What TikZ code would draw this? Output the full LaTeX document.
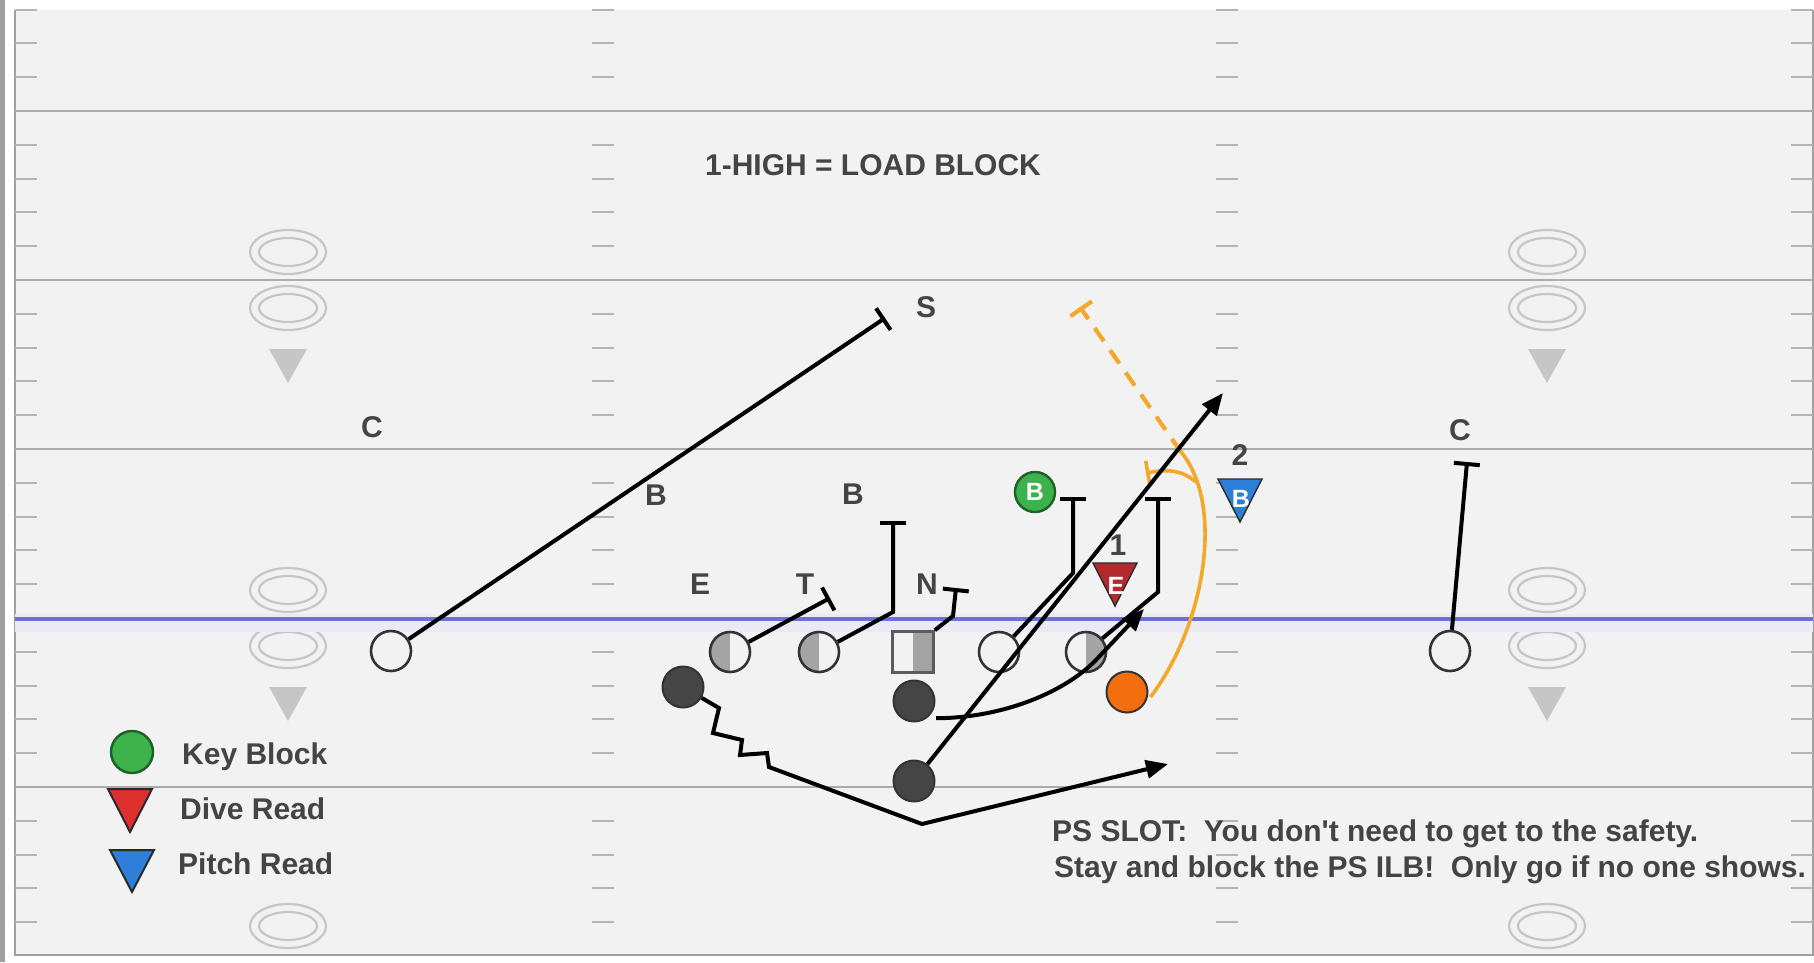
\documentclass[tikz,border=0pt]{standalone}
\usepackage{fontspec}
\setmainfont{Liberation Sans}[Ligatures=TeXOff]
\usetikzlibrary{arrows.meta,calc}

\definecolor{fieldbg}{HTML}{F2F2F2}
\definecolor{edgegray}{HTML}{A0A0A0}
\definecolor{yardline}{HTML}{ABABAB}
\definecolor{hashc}{HTML}{B4B4B4}
\definecolor{numc}{HTML}{C6C6C6}
\definecolor{losblue}{HTML}{6F6FDB}
\definecolor{losband}{HTML}{EAEAF6}
\definecolor{labelc}{HTML}{444444}
\definecolor{ringc}{HTML}{333333}
\definecolor{linemanfill}{HTML}{A4A4A4}
\definecolor{backfill}{HTML}{454545}
\definecolor{keygreen}{HTML}{3DB14A}
\definecolor{keyedge}{HTML}{1F5F28}
\definecolor{pitchorange}{HTML}{F3A82A}
\definecolor{runnerorange}{HTML}{F26E10}
\definecolor{divered}{HTML}{B3292E}
\definecolor{legendred}{HTML}{DF2E2E}
\definecolor{pitchblue}{HTML}{2D7FD9}
\definecolor{tridark}{HTML}{2A2A2A}

\begin{document}
\begin{tikzpicture}[x=1pt,y=-1pt,
  lbl/.style={font=\fontsize{30}{36}\selectfont\bfseries, text=labelc, inner sep=0pt},
  inlbl/.style={font=\fontsize{25}{30}\selectfont\bfseries, text=white, inner sep=0pt},
  route/.style={draw=black, line width=4pt, line join=miter},
  blk/.style={-{Bar[width=26pt]}},
  arr/.style={-{Triangle[length=22pt,width=18pt]}},
  player/.style={circle, draw=ringc, line width=2.6pt, minimum size=40pt, inner sep=0pt, fill=fieldbg},
  halfL/.style={player, path picture={\fill[linemanfill] (path picture bounding box.south west) rectangle (path picture bounding box.north);}},
  halfR/.style={player, path picture={\fill[linemanfill] (path picture bounding box.south) rectangle (path picture bounding box.north east);}},
  centerbox/.style={rectangle, draw=ringc!80, line width=2.6pt, minimum size=41pt, inner sep=0pt, fill=fieldbg,
    path picture={\fill[linemanfill] (path picture bounding box.south) rectangle (path picture bounding box.north east);}},
  back/.style={circle, draw=ringc, fill=backfill, line width=2pt, minimum size=41pt, inner sep=0pt},
  runner/.style={circle, draw=ringc, fill=runnerorange, line width=2pt, minimum size=41pt, inner sep=0pt},
  keyblock/.style={circle, draw=keyedge, fill=keygreen, line width=2.4pt, minimum size=40pt, inner sep=0pt},
  numoval/.style={draw=numc, line width=2.2pt},
  pitchline/.style={draw=pitchorange, line width=3.6pt},
]
\useasboundingbox (0,0) rectangle (1814,962);

% paper, side strip and field
\fill[white] (0,0) rectangle (1814,962);
\fill[edgegray] (0,0) rectangle (5,962);
\fill[fieldbg] (15,10) rectangle (1813,955);
\draw[edgegray, line width=2pt] (15,10) -- (15,955) -- (1813,955) -- (1813,10);

% hash marks, every yard
\foreach \k in {-3,-2,-1,1,2,3,4,6,7,8,9,11,12,13,14,16,17,18,19,21,22,23,24} {
  \pgfmathsetmacro{\yy}{111+33.8*\k}
  \draw[hashc, line width=2pt] (15,\yy) -- (37,\yy);
  \draw[hashc, line width=2pt] (592,\yy) -- (614,\yy);
  \draw[hashc, line width=2pt] (1216,\yy) -- (1238,\yy);
  \draw[hashc, line width=2pt] (1791,\yy) -- (1813,\yy);
}

% yard lines
\foreach \yy in {111,280,449,787} {
  \draw[yardline, line width=2.6pt] (15,\yy) -- (1813,\yy);
}

% yard numbers and direction arrows
\foreach \xx in {288,1547} {
  \foreach \yy in {252,308,590,646,926} {
    \draw[numoval] (\xx,\yy) ellipse [x radius=38pt, y radius=22pt];
    \draw[numoval] (\xx,\yy) ellipse [x radius=29pt, y radius=14pt];
  }
  \foreach \yy in {280,618} {
    \fill[numc] (\xx-19,\yy+69) -- (\xx+19,\yy+69) -- (\xx,\yy+103) -- cycle;
  }
}

% line of scrimmage
\fill[losband] (15,614) rectangle (1813,632);
\draw[losblue, line width=4.6pt] (15,619) -- (1813,619);

% heading and notes
\node[lbl] (head) at (873,165) {1-HIGH = LOAD BLOCK};
\node[lbl, anchor=base west] (note1) at (1052,841) {PS SLOT:\ \ You don't need to get to the safety.};
\node[lbl, anchor=base west] (note2) at (1054,877) {Stay and block the PS ILB!\ \ Only go if no one shows.};

% defensive labels
\node[lbl] (labC1) at (372,427) {C};
\node[lbl] (labS) at (926,307) {S};
\node[lbl] (labB1) at (656,495) {B};
\node[lbl] (labB2) at (853,494) {B};
\node[lbl] (labE) at (700,584) {E};
\node[lbl] (labT) at (805,584) {T};
\node[lbl] (labN) at (927,584) {N};
\node[lbl] (lab1) at (1118,545) {1};
\node[lbl] (lab2) at (1240,455) {2};
\node[lbl] (labC2) at (1460,430) {C};

% read keys
\filldraw[fill=divered, draw=tridark, line width=1.4pt] (1093,563) -- (1137,563) -- (1115,606) -- cycle;
\node[inlbl] (diveE) at (1116,586) {E};
\filldraw[fill=pitchblue, draw=tridark, line width=1.4pt] (1218,479) -- (1262,479) -- (1240,522) -- cycle;
\node[inlbl] (pitchB) at (1241,499) {B};
\node[keyblock, inlbl] (keyB) at (1035,492) {B};

% offense
\node[player] (lc) at (391,651) {};
\node[player] (rc) at (1450,651) {};
\node[halfL] (t1) at (730,652) {};
\node[halfL] (t2) at (819,652) {};
\node[centerbox] (ctr) at (913,652) {};
\node[player] (g1) at (999,652) {};
\node[halfR] (g2) at (1086,652) {};
\node[back] (b1) at (683,687) {};
\node[back] (b2) at (914,701) {};
\node[back] (b3) at (914,781) {};
\node[runner] (pb) at (1127,692) {};

% route and block end points
\coordinate (sEnd) at (885,318);
\coordinate (t1End) at (830,598);
\coordinate (t2Turn) at (893,612);
\coordinate (t2End) at (893,521);
\coordinate (ctrTurn) at (953,616);
\coordinate (ctrEnd) at (956,588);
\coordinate (g1Turn) at (1073,573);
\coordinate (g1End) at (1073,497);
\coordinate (g2Turn) at (1158,592);
\coordinate (g2End) at (1158,497);
\coordinate (rcEnd) at (1467,462);
\coordinate (qbEnd) at (1223,393);
\coordinate (diveEnd) at (1144,609);
\coordinate (motionEnd) at (1168,764);
\coordinate (pitchTop) at (1181,452);
\coordinate (pitchEnd) at (1080,307);
\coordinate (forkEnd) at (1146,473);

% pitch path
\draw[pitchline] ($(pb.east)+(2,5)$) .. controls (1205,625) and (1225,505) .. (pitchTop);
\draw[pitchline, -{Bar[width=24pt]}] (1196,482) .. controls (1180,468) and (1163,470) .. (forkEnd);
\draw[pitchline, line width=4.2pt, dash pattern=on 16pt off 11pt, -{Bar[width=26pt]}] (pitchTop) -- (pitchEnd);

% blocks
\draw[route, blk] (lc) -- (sEnd);
\draw[route, blk] (t1) -- (t1End);
\draw[route, blk] (t2) -- (t2Turn) -- (t2End);
\draw[route, blk] (ctr.north east) -- (ctrTurn) -- (ctrEnd);
\draw[route, blk] (g1) -- (g1Turn) -- (g1End);
\draw[route, blk] (g2) -- (g2Turn) -- (g2End);
\draw[route, blk] (rc) -- (rcEnd);

% ball carriers
\draw[route, arr] (b3) -- (qbEnd);
\draw[route, arr] ($(b2.south east)+(7,2)$) .. controls (1000,718) and (1062,694) .. (1095,661) -- (diveEnd);
\draw[route, arr] (b1) -- (719,708) -- (713,733) -- (742,740) -- (740,755) -- (767,753) -- (769,767) -- (922,824) -- (motionEnd);

% legend
\node[keyblock, minimum size=42pt] (legKey) at (132,752) {};
\node[lbl, anchor=base west] (legKeyTxt) at (182,764) {Key Block};
\filldraw[fill=legendred, draw=tridark, line width=2pt] (108,789) -- (152,789) -- (130,832) -- cycle;
\node[lbl, anchor=base west] (legDiveTxt) at (180,819) {Dive Read};
\filldraw[fill=pitchblue, draw=tridark, line width=2pt] (110,850) -- (154,850) -- (132,892) -- cycle;
\node[lbl, anchor=base west] (legPitchTxt) at (178,874) {Pitch Read};
\end{tikzpicture}
\end{document}
